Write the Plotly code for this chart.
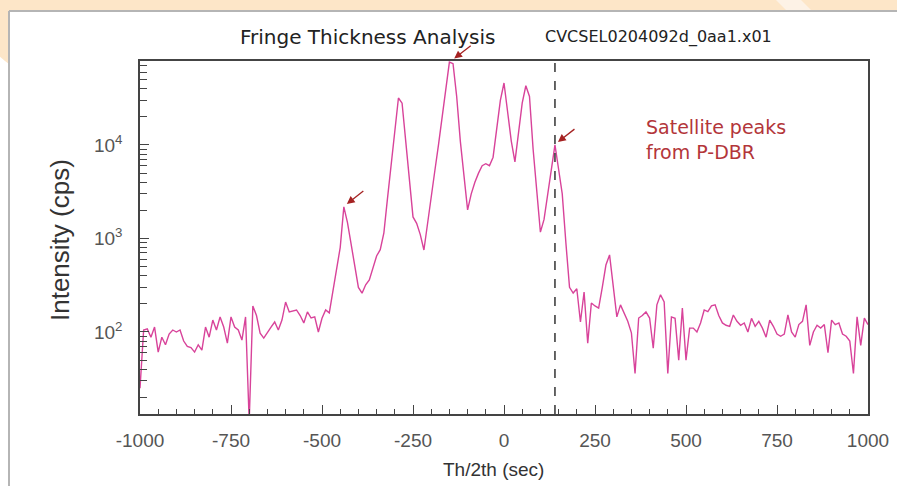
import math
import plotly.graph_objects as go

# ---- data (Th/2th in sec, intensity in cps) ----
theta = list(range(-1000, 1001, 10))
intensity = [
    25, 105, 108, 88, 113, 61, 88, 73, 95, 105,          # -1000 .. -910
    100, 105, 80, 70, 68, 61, 73, 64, 113, 88,           # -900 .. -810
    134, 105, 145, 113, 76, 145, 113, 105, 82, 145,      # -800 .. -710
    11, 190, 150, 97, 86, 100, 113, 128, 105, 134,       # -700 .. -610
    209, 164, 168, 172, 150, 125, 164, 141, 145, 100,    # -600 .. -510
    140, 172, 160, 281, 450, 800, 2175, 1480, 870, 510,  # -500 .. -410
    300, 260, 320, 360, 480, 650, 760, 1150, 2700, 6300, # -400 .. -310
    15000, 31800, 28000, 11000, 4300, 1700, 1450, 1100, 753, 1500,   # -300 .. -210
    2800, 5300, 10000, 19000, 36000, 77000, 74000, 33000, 11000, 4500,  # -200 .. -110
    2020, 3000, 4000, 5000, 6000, 6300, 6000, 7400, 15000, 30000,  # -100 .. -10
    46000, 22000, 11000, 6600, 13000, 28000, 43000, 33000, 9000, 3000,  # 0 .. 90
    1170, 1600, 3000, 5500, 10000, 5500, 3000, 900, 300, 261,  # 100 .. 190
    290, 128, 268, 76, 204, 190, 180, 300, 520, 667,     # 200 .. 290
    300, 145, 195, 160, 130, 98, 36, 141, 150, 164,      # 300 .. 390
    141, 67, 195, 250, 210, 36, 145, 140, 50, 180,       # 400 .. 490
    50, 110, 110, 100, 125, 172, 165, 190, 195, 150,     # 500 .. 590
    125, 118, 115, 152, 130, 118, 125, 100, 140, 115,    # 600 .. 690
    130, 110, 88, 134, 115, 95, 90, 95, 152, 100,        # 700 .. 790
    88, 120, 130, 195, 72, 100, 118, 110, 120, 60,       # 800 .. 890
    134, 120, 125, 95, 90, 80, 36, 145, 72, 141,         # 900 .. 990
    120,                                                 # 1000
]

x_ticks = [-1000, -750, -500, -250, 0, 250, 500, 750, 1000]
x_tick_text = ["-1000", "-750", "-500", "-250", "0", "250", "500", "750", "1000"]
y_ticks = [100, 1000, 10000]
y_tick_text = ["10<sup>2</sup>", "10<sup>3</sup>", "10<sup>4</sup>"]
marker_x = 140
arrow_peaks_x = [-440, -145, 140]
arrow_peaks_y = [2175, 78000, 10000]

y_minor = [m * 10 ** d for d in range(1, 5) for m in range(2, 10)]

# plot-area geometry (pixels) used to place decorations
L, R, T, B = 140, 868, 61, 414
W, H = R - L, B - T


def px(xp):
    return (xp - L) / W


def py(yp):
    return (B - yp) / H


fig = go.Figure()
fig.add_trace(go.Scatter(
    x=theta, y=intensity, mode="lines",
    line=dict(color="#d8439a", width=1.4),
    showlegend=False, cliponaxis=True,
))

axis_col = "#444444"
fig.update_layout(
    width=897, height=486,
    margin=dict(l=L, r=897 - R, t=T, b=486 - B, autoexpand=False),
    paper_bgcolor="white", plot_bgcolor="white",
    font=dict(family="Liberation Sans, Arial, sans-serif", color="#333333"),
    xaxis=dict(
        range=[-1000, 1000], tickvals=x_ticks, ticktext=x_tick_text,
        ticks="inside", ticklen=9, tickwidth=1.3, tickcolor=axis_col,
        minor=dict(dtick=50, tick0=0, ticks="inside", ticklen=5, tickwidth=1.1, tickcolor=axis_col),
        showline=True, linecolor=axis_col, linewidth=1.5, mirror=True,
        showgrid=False, zeroline=False, ticklabelstandoff=8, automargin=False,
        tickfont=dict(size=19, color="#555555"),
    ),
    yaxis=dict(
        type="log", range=[1.123, 4.898],
        tickvals=y_ticks, ticktext=y_tick_text,
        ticks="inside", ticklen=9, tickwidth=1.3, tickcolor=axis_col,
        minor=dict(tickvals=y_minor, ticks="inside", ticklen=7, tickwidth=1.1, tickcolor=axis_col),
        showline=True, linecolor=axis_col, linewidth=1.5, mirror=True,
        showgrid=False, zeroline=False, ticklabelstandoff=12, automargin=False,
        tickfont=dict(size=19, color="#555555"),
    ),
)

# dashed marker line
fig.add_shape(type="line", xref="x", yref="paper", x0=marker_x, x1=marker_x, y0=0, y1=1,
              line=dict(color="#333333", width=1.5, dash="dash"))

# background decoration: peach strip, left peach corner, light diagonal, panel border
fig.add_shape(type="rect", xref="paper", yref="paper", layer="below",
              x0=px(-5), x1=px(905), y0=py(11), y1=py(-5),
              fillcolor="#fde6c8", line=dict(width=0))
fig.add_shape(type="path", xref="paper", yref="paper", layer="below",
              path="M %f %f L %f %f L %f %f Q %f %f %f %f Z" % (
                  px(-5), py(0), px(9), py(0), px(9), py(64),
                  px(3), py(60), px(-5), py(52)),
              fillcolor="#fde6c8", line=dict(width=0))
fig.add_shape(type="path", xref="paper", yref="paper", layer="below",
              path="M %f %f L %f %f L %f %f L %f %f Z" % (
                  px(775), py(-1), px(800), py(-1), px(812), py(11), px(787), py(11)),
              fillcolor="#fdf2e6", line=dict(width=0))
fig.add_shape(type="line", xref="paper", yref="paper", layer="below",
              x0=px(9), x1=px(905), y0=py(11), y1=py(11),
              line=dict(color="#b5b5b5", width=2))
fig.add_shape(type="line", xref="paper", yref="paper", layer="below",
              x0=px(9), x1=px(9), y0=py(495), y1=py(11),
              line=dict(color="#b5b5b5", width=2))

# titles
fig.add_annotation(text="Fringe Thickness Analysis", xref="paper", yref="paper",
                   x=px(367), y=py(37), xanchor="center", yanchor="middle", showarrow=False,
                   font=dict(size=20, family="DejaVu Sans", color="#222222"))
fig.add_annotation(text="CVCSEL0204092d_0aa1.x01", xref="paper", yref="paper",
                   x=px(658), y=py(37), xanchor="center", yanchor="middle", showarrow=False,
                   font=dict(size=16, family="DejaVu Sans", color="#222222"))
fig.add_annotation(text="Satellite peaks<br>from P-DBR", xref="paper", yref="paper",
                   x=px(644), y=py(139), xanchor="left", yanchor="middle", align="left",
                   showarrow=False, font=dict(size=19, family="DejaVu Sans", color="#b3363a"))
fig.add_annotation(text="Intensity (cps)", xref="paper", yref="paper", textangle=-90,
                   x=px(60), y=py(240), xanchor="center", yanchor="middle", showarrow=False,
                   font=dict(size=26, color="#333333"))
fig.add_annotation(text="Th/2th (sec)", xref="paper", yref="paper",
                   x=px(493), y=py(470), xanchor="center", yanchor="middle", showarrow=False,
                   font=dict(size=19, color="#333333"))

# arrows pointing at peaks (log axis: annotation y is given as log10 of the value)
for ax_, ay_ in zip(arrow_peaks_x, arrow_peaks_y):
    fig.add_annotation(x=ax_, y=math.log10(ay_), xref="x", yref="y", yshift=3, xshift=3,
                       text="", showarrow=True, arrowhead=2, arrowsize=1.2,
                       arrowwidth=1.3, arrowcolor="#a52222", ax=18, ay=-14)

fig.write_html("out.html")
